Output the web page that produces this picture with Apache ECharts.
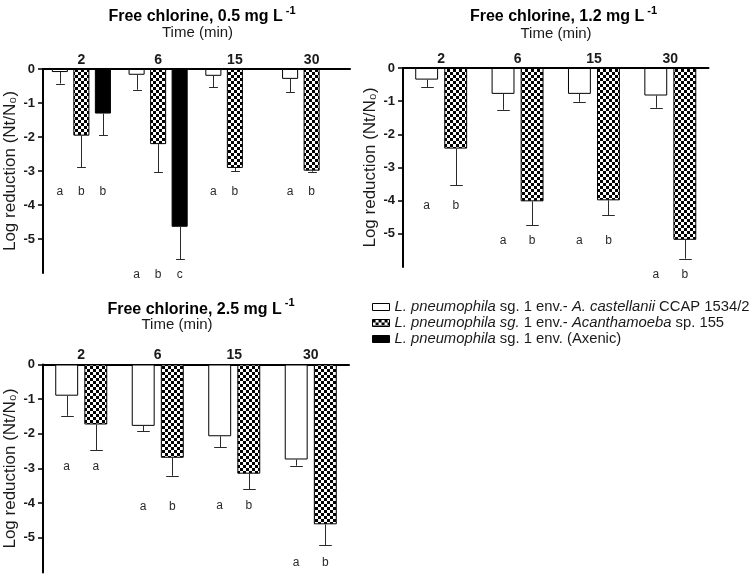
<!DOCTYPE html>
<html><head><meta charset="utf-8">
<script src="https://cdn.jsdelivr.net/npm/echarts@6/dist/echarts.min.js"></script>
<style>html,body{margin:0;padding:0;background:#fff}#c{width:756px;height:578px}</style>
</head><body><div id="c"></div>
<script>
// ---------- data ----------
const categories = ['2', '6', '15', '30'];
const yTickValues = [0, -1, -2, -3, -4, -5];

const seriesNames = [
  'L. pneumophila sg. 1 env.- A. castellanii CCAP 1534/2',
  'L. pneumophila sg. 1 env.- Acanthamoeba sp. 155',
  'L. pneumophila sg. 1 env. (Axenic)'
];
const legendRich = [
  '{i|L. pneumophila} sg. 1 env.- {i|A. castellanii} CCAP 1534/2',
  '{i|L. pneumophila sg.} 1 env.- {i|Acanthamoeba} sp. 155',
  '{i|L. pneumophila} sg. 1 env. (Axenic)'
];

const panelTitles = ['Free chlorine, 0.5 mg L', 'Free chlorine, 1.2 mg L', 'Free chlorine, 2.5 mg L'];
const titleSup = '-1';
const xAxisTitle = 'Time (min)';
const yAxisTitle = 'Log reduction (Nt/N\u2080)';

// Free chlorine 0.5 mg/L
const cl05_castellanii     = [-0.09, -0.17, -0.20, -0.29];
const cl05_castellanii_err = [-0.43, -0.61, -0.53, -0.68];
const cl05_sp155           = [-1.96, -2.21, -2.91, -2.99];
const cl05_sp155_err       = [-2.89, -3.03, -3.01, -3.02];
const cl05_axenic          = [-1.31, -4.64, null, null];
const cl05_axenic_err      = [-1.95, -5.59, null, null];
const cl05_letters = [['a', 'b', 'b'], ['a', 'b', 'c'], ['a', 'b', ''], ['a', 'b', '']];
const cl05_letterY = [-3.6, -6.05, -3.6, -3.6];

// Free chlorine 1.2 mg/L
const cl12_castellanii     = [-0.35, -0.78, -0.78, -0.83];
const cl12_castellanii_err = [-0.58, -1.26, -1.02, -1.20];
const cl12_sp155           = [-2.43, -4.02, -3.99, -5.18];
const cl12_sp155_err       = [-3.54, -4.74, -4.44, -5.75];
const cl12_letters = [['a', 'b'], ['a', 'b'], ['a', 'b'], ['a', 'b']];
const cl12_letterY = [-4.14, -5.2, -5.2, -6.24];

// Free chlorine 2.5 mg/L
const cl25_castellanii     = [-0.90, -1.77, -2.07, -2.74];
const cl25_castellanii_err = [-1.48, -1.92, -2.38, -2.92];
const cl25_sp155           = [-1.73, -2.69, -3.15, -4.61];
const cl25_sp155_err       = [-2.48, -3.21, -3.60, -5.21];
const cl25_letters = [['a', 'a'], ['a', 'b'], ['a', 'b'], ['a', 'b']];
const cl25_letterY = [-2.95, -4.09, -4.08, -5.71];

// ---------- styling / layout ----------
const FF = '"Liberation Sans", Arial, Helvetica, sans-serif';
const TXT = '#1a1a1a';

function checker() {
  const c = document.createElement('canvas');
  c.width = 6; c.height = 6;
  const x = c.getContext('2d');
  x.fillStyle = '#fff'; x.fillRect(0, 0, 6, 6);
  x.fillStyle = '#000'; x.fillRect(0, 0, 3, 3); x.fillRect(3, 3, 3, 3);
  return c;
}
const checkPattern = { image: checker(), repeat: 'repeat' };
const barStyles = [
  { color: '#ffffff', borderColor: '#000', borderWidth: 1 },
  { color: checkPattern, borderColor: '#000', borderWidth: 1 },
  { color: '#000000', borderColor: '#000', borderWidth: 1 }
];

const panels = [
  { grid: { left: 43, top: 69, width: 307, height: 204 }, cg: 0.23, g: 0.34,
    data: [[cl05_castellanii, cl05_castellanii_err], [cl05_sp155, cl05_sp155_err], [cl05_axenic, cl05_axenic_err]],
    letters: cl05_letters, letterY: cl05_letterY, titlePos: [202, 17], timePos: [197.5, 32.5] },
  { grid: { left: 403, top: 68, width: 305.5, height: 199 }, cg: 0.32, g: 0.27,
    data: [[cl12_castellanii, cl12_castellanii_err], [cl12_sp155, cl12_sp155_err]],
    letters: cl12_letters, letterY: cl12_letterY, titlePos: [563.5, 17], timePos: [556, 33.5] },
  { grid: { left: 43, top: 364.5, width: 306, height: 208 }, cg: 0.32, g: 0.27,
    data: [[cl25_castellanii, cl25_castellanii_err], [cl25_sp155, cl25_sp155_err]],
    letters: cl25_letters, letterY: cl25_letterY, titlePos: [201, 309.5], timePos: [177, 324.5] }
];

function slotLayout(api, slot, n, cg, g) {
  const band = api.size([1, 0])[0];
  const total = band * (1 - cg);
  const w = total / (n + (n - 1) * g);
  return { off: -total / 2 + slot * w * (1 + g) + w / 2, w: w };
}

const option = {
  animation: false,
  backgroundColor: '#ffffff',
  textStyle: { fontFamily: FF },
  grid: [], xAxis: [], yAxis: [], series: [], graphic: [],
  legend: {
    data: seriesNames,
    orient: 'vertical',
    left: 367, top: 294,
    itemWidth: 17, itemHeight: 7, itemGap: 0,
    icon: 'rect',
    itemStyle: { borderWidth: 1, borderColor: '#000' },
    selectedMode: false,
    formatter: function (name) { return legendRich[seriesNames.indexOf(name)]; },
    textStyle: { fontSize: 14.8, lineHeight: 16, color: TXT, fontFamily: FF,
      rich: { i: { fontStyle: 'italic', fontSize: 14.8, lineHeight: 16, color: TXT, fontFamily: FF } } }
  }
};

panels.forEach(function (p, pi) {
  option.grid.push(p.grid);
  option.xAxis.push({
    type: 'category', gridIndex: pi, data: categories, position: 'top',
    axisLine: { onZero: false, lineStyle: { color: '#000', width: 2 } },
    axisTick: { show: false },
    axisLabel: { margin: 2, fontSize: 14, fontWeight: 'bold', color: TXT, fontFamily: FF }
  });
  option.yAxis.push({
    type: 'value', gridIndex: pi, min: -6, max: 0,
    name: yAxisTitle, nameLocation: 'middle', nameRotate: 90, nameGap: 24,
    nameTextStyle: { fontSize: 17, color: TXT, fontFamily: FF },
    splitLine: { show: false },
    axisLine: { show: true, onZero: false, lineStyle: { color: '#000', width: 2 } },
    axisTick: { show: true, length: 5, customValues: yTickValues, lineStyle: { color: '#000', width: 1.5 } },
    axisLabel: { customValues: yTickValues, margin: 8, fontSize: 13, fontWeight: 'bold', color: TXT, fontFamily: FF }
  });
  const n = p.data.length;
  p.data.forEach(function (d, si) {
    option.series.push({
      type: 'bar', name: seriesNames[si], xAxisIndex: pi, yAxisIndex: pi,
      data: d[0], barCategoryGap: (p.cg * 100) + '%', barGap: (p.g * 100) + '%',
      itemStyle: barStyles[si], z: 2
    });
    const errData = [];
    d[0].forEach(function (v, i) { if (v != null && d[1][i] != null) errData.push([i, v, d[1][i]]); });
    option.series.push({
      type: 'custom', xAxisIndex: pi, yAxisIndex: pi, z: 3, silent: true,
      data: errData,
      renderItem: function (params, api) {
        const cat = api.value(0), v = api.value(1), e = api.value(2);
        const L = slotLayout(api, si, n, p.cg, p.g);
        const p0 = api.coord([cat, v]), p1 = api.coord([cat, e]);
        const x = Math.round(p0[0] + L.off) + 0.5;
        const cap = L.w * 0.55;
        const st = { stroke: '#2a2a2a', lineWidth: 1 };
        return { type: 'group', children: [
          { type: 'line', shape: { x1: x, y1: p0[1], x2: x, y2: p1[1] }, style: st },
          { type: 'line', shape: { x1: x - cap / 2, y1: Math.round(p1[1]) + 0.5, x2: x + cap / 2, y2: Math.round(p1[1]) + 0.5 }, style: st }
        ] };
      }
    });
  });
  option.series.push({
    type: 'custom', xAxisIndex: pi, yAxisIndex: pi, z: 3, silent: true, clip: false,
    data: p.letterY.map(function (y, i) { return [i, y]; }),
    renderItem: function (params, api) {
      const cat = api.value(0), y = api.value(1);
      const pt = api.coord([cat, y]);
      const kids = [];
      p.letters[params.dataIndex].forEach(function (t, slot) {
        if (!t) return;
        const L = slotLayout(api, slot, n, p.cg, p.g);
        kids.push({ type: 'text', x: pt[0] + L.off, y: pt[1],
          style: { text: t, fontSize: 12, fontFamily: FF, fill: '#2a2a2a', align: 'center', verticalAlign: 'middle' } });
      });
      return { type: 'group', children: kids };
    }
  });
  option.graphic.push({
    type: 'text', x: p.titlePos[0], y: p.titlePos[1] - 2,
    style: {
      text: '{t|' + panelTitles[pi] + '}{s|' + titleSup + '}',
      align: 'center', verticalAlign: 'middle',
      rich: {
        t: { fontSize: 16, fontWeight: 'bold', fontFamily: FF, color: TXT, lineHeight: 20, verticalAlign: 'bottom' },
        s: { fontSize: 11, fontWeight: 'bold', fontFamily: FF, color: TXT, lineHeight: 12, verticalAlign: 'top', padding: [0, 0, 0, 3] }
      }
    }
  });
  option.graphic.push({
    type: 'text', x: p.timePos[0], y: p.timePos[1],
    style: { text: xAxisTitle, fontSize: 15, fontFamily: FF, fill: TXT, align: 'center', verticalAlign: 'middle' }
  });
});

const chart = echarts.init(document.getElementById('c'), null, { renderer: 'canvas' });
chart.setOption(option);
</script>
</body></html>
